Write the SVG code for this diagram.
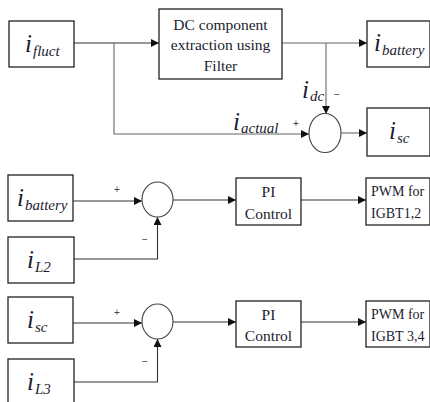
<svg xmlns="http://www.w3.org/2000/svg" width="430" height="402" viewBox="0 0 430 402">
<style>
.box{fill:#fff;stroke:#222;stroke-width:1.3}
.sum{fill:#fff;stroke:#444;stroke-width:1.1}
.ln{fill:none;stroke:#333;stroke-width:1.1}
.lg{fill:none;stroke:#666;stroke-width:1.1}
.t{font-family:"Liberation Serif",serif;fill:#1c1c30}
.v{font-style:italic;font-size:25px}
.s{font-style:italic;font-size:15px}
.b{font-size:15.5px;text-anchor:middle}
.p{font-size:14px}
.sg{font-family:"Liberation Sans",sans-serif;font-size:10px;fill:#444}
</style>
<defs>
<marker id="ah" viewBox="0 0 10 10" refX="10" refY="5" markerWidth="8" markerHeight="8" markerUnits="userSpaceOnUse" orient="auto">
<path d="M0,0 L10,5 L0,10 z" fill="#111"/>
</marker>
</defs>
<rect width="430" height="402" fill="#fff"/>
<g id="connectors">
<path class="ln" d="M74,43 H159" marker-end="url(#ah)"/>
<path class="lg" d="M114,43 V134 H309" marker-end="url(#ah)"/>
<path class="lg" d="M282,43 H367" marker-end="url(#ah)"/>
<path class="lg" d="M326,43 V114" marker-end="url(#ah)"/>
<path class="lg" d="M341,133 H367" marker-end="url(#ah)"/>
<path class="ln" d="M73,201 H142" marker-end="url(#ah)"/>
<path class="ln" d="M74,259 H157.5 V217" marker-end="url(#ah)"/>
<path class="ln" d="M173,200 H236" marker-end="url(#ah)"/>
<path class="ln" d="M301,200 H366" marker-end="url(#ah)"/>
<path class="ln" d="M73,323 H142" marker-end="url(#ah)"/>
<path class="ln" d="M74,382 H157.5 V339" marker-end="url(#ah)"/>
<path class="ln" d="M173,322 H236" marker-end="url(#ah)"/>
<path class="ln" d="M301,322 H366" marker-end="url(#ah)"/>
</g>
<g id="n_ifluct">
<rect class="box" x="9" y="21" width="65" height="46"/>
<text class="t v" x="25" y="52">i</text><text class="t s" x="33" y="56">fluct</text>
</g>
<g id="n_filter">
<rect class="box" x="159" y="9" width="123" height="70"/>
<text class="t b" x="220.5" y="30">DC component</text>
<text class="t b" x="220.5" y="50">extraction using</text>
<text class="t b" x="220.5" y="71">Filter</text>
</g>
<g id="n_ibattery_top">
<rect class="box" x="367" y="21" width="63" height="46"/>
<text class="t v" x="374" y="51">i</text><text class="t s" x="382" y="55">battery</text>
</g>
<g id="n_sum1">
<ellipse class="sum" cx="325" cy="133" rx="16" ry="19.5"/>
<text class="t v" x="302" y="98">i</text><text class="t s" x="310" y="101">dc</text>
<text class="sg" x="334" y="98">−</text>
<text class="t v" x="233" y="130">i</text><text class="t s" x="241" y="133">actual</text>
<text class="sg" x="293" y="127">+</text>
</g>
<g id="n_isc_top">
<rect class="box" x="367" y="108" width="63" height="48"/>
<text class="t v" x="389" y="139">i</text><text class="t s" x="397" y="143">sc</text>
</g>
<g id="n_ibattery">
<rect class="box" x="8" y="175" width="65" height="46"/>
<text class="t v" x="17" y="206">i</text><text class="t s" x="25" y="210">battery</text>
</g>
<g id="n_sum2">
<ellipse class="sum" cx="157.5" cy="199.5" rx="15.5" ry="17.5"/>
<text class="sg" x="114" y="193">+</text>
<text class="sg" x="142" y="243" fill="#888">−</text>
</g>
<g id="n_il2">
<rect class="box" x="8" y="237" width="66" height="46"/>
<text class="t v" x="27" y="268">i</text><text class="t s" x="35" y="272">L2</text>
</g>
<g id="n_pi1">
<rect class="box" x="236" y="178" width="65" height="47"/>
<text class="t b" x="268.5" y="197">PI</text>
<text class="t b" x="268.5" y="219">Control</text>
</g>
<g id="n_pwm1">
<rect class="box" x="366" y="178" width="64" height="47"/>
<text class="t p" x="371" y="196">PWM for</text>
<text class="t p" x="371" y="218">IGBT1,2</text>
</g>
<g id="n_isc">
<rect class="box" x="8" y="297" width="65" height="46"/>
<text class="t v" x="27" y="328">i</text><text class="t s" x="35" y="332">sc</text>
</g>
<g id="n_sum3">
<ellipse class="sum" cx="157.5" cy="321.5" rx="15.5" ry="17.5"/>
<text class="sg" x="114" y="316">+</text>
<text class="sg" x="142" y="365" fill="#888">−</text>
</g>
<g id="n_il3">
<rect class="box" x="8" y="359" width="66" height="50"/>
<text class="t v" x="27" y="390">i</text><text class="t s" x="35" y="394">L3</text>
</g>
<g id="n_pi2">
<rect class="box" x="236" y="301" width="65" height="46"/>
<text class="t b" x="268.5" y="320">PI</text>
<text class="t b" x="268.5" y="341">Control</text>
</g>
<g id="n_pwm2">
<rect class="box" x="366" y="301" width="64" height="46"/>
<text class="t p" x="371" y="319">PWM for</text>
<text class="t p" x="371" y="341">IGBT 3,4</text>
</g>
</svg>
